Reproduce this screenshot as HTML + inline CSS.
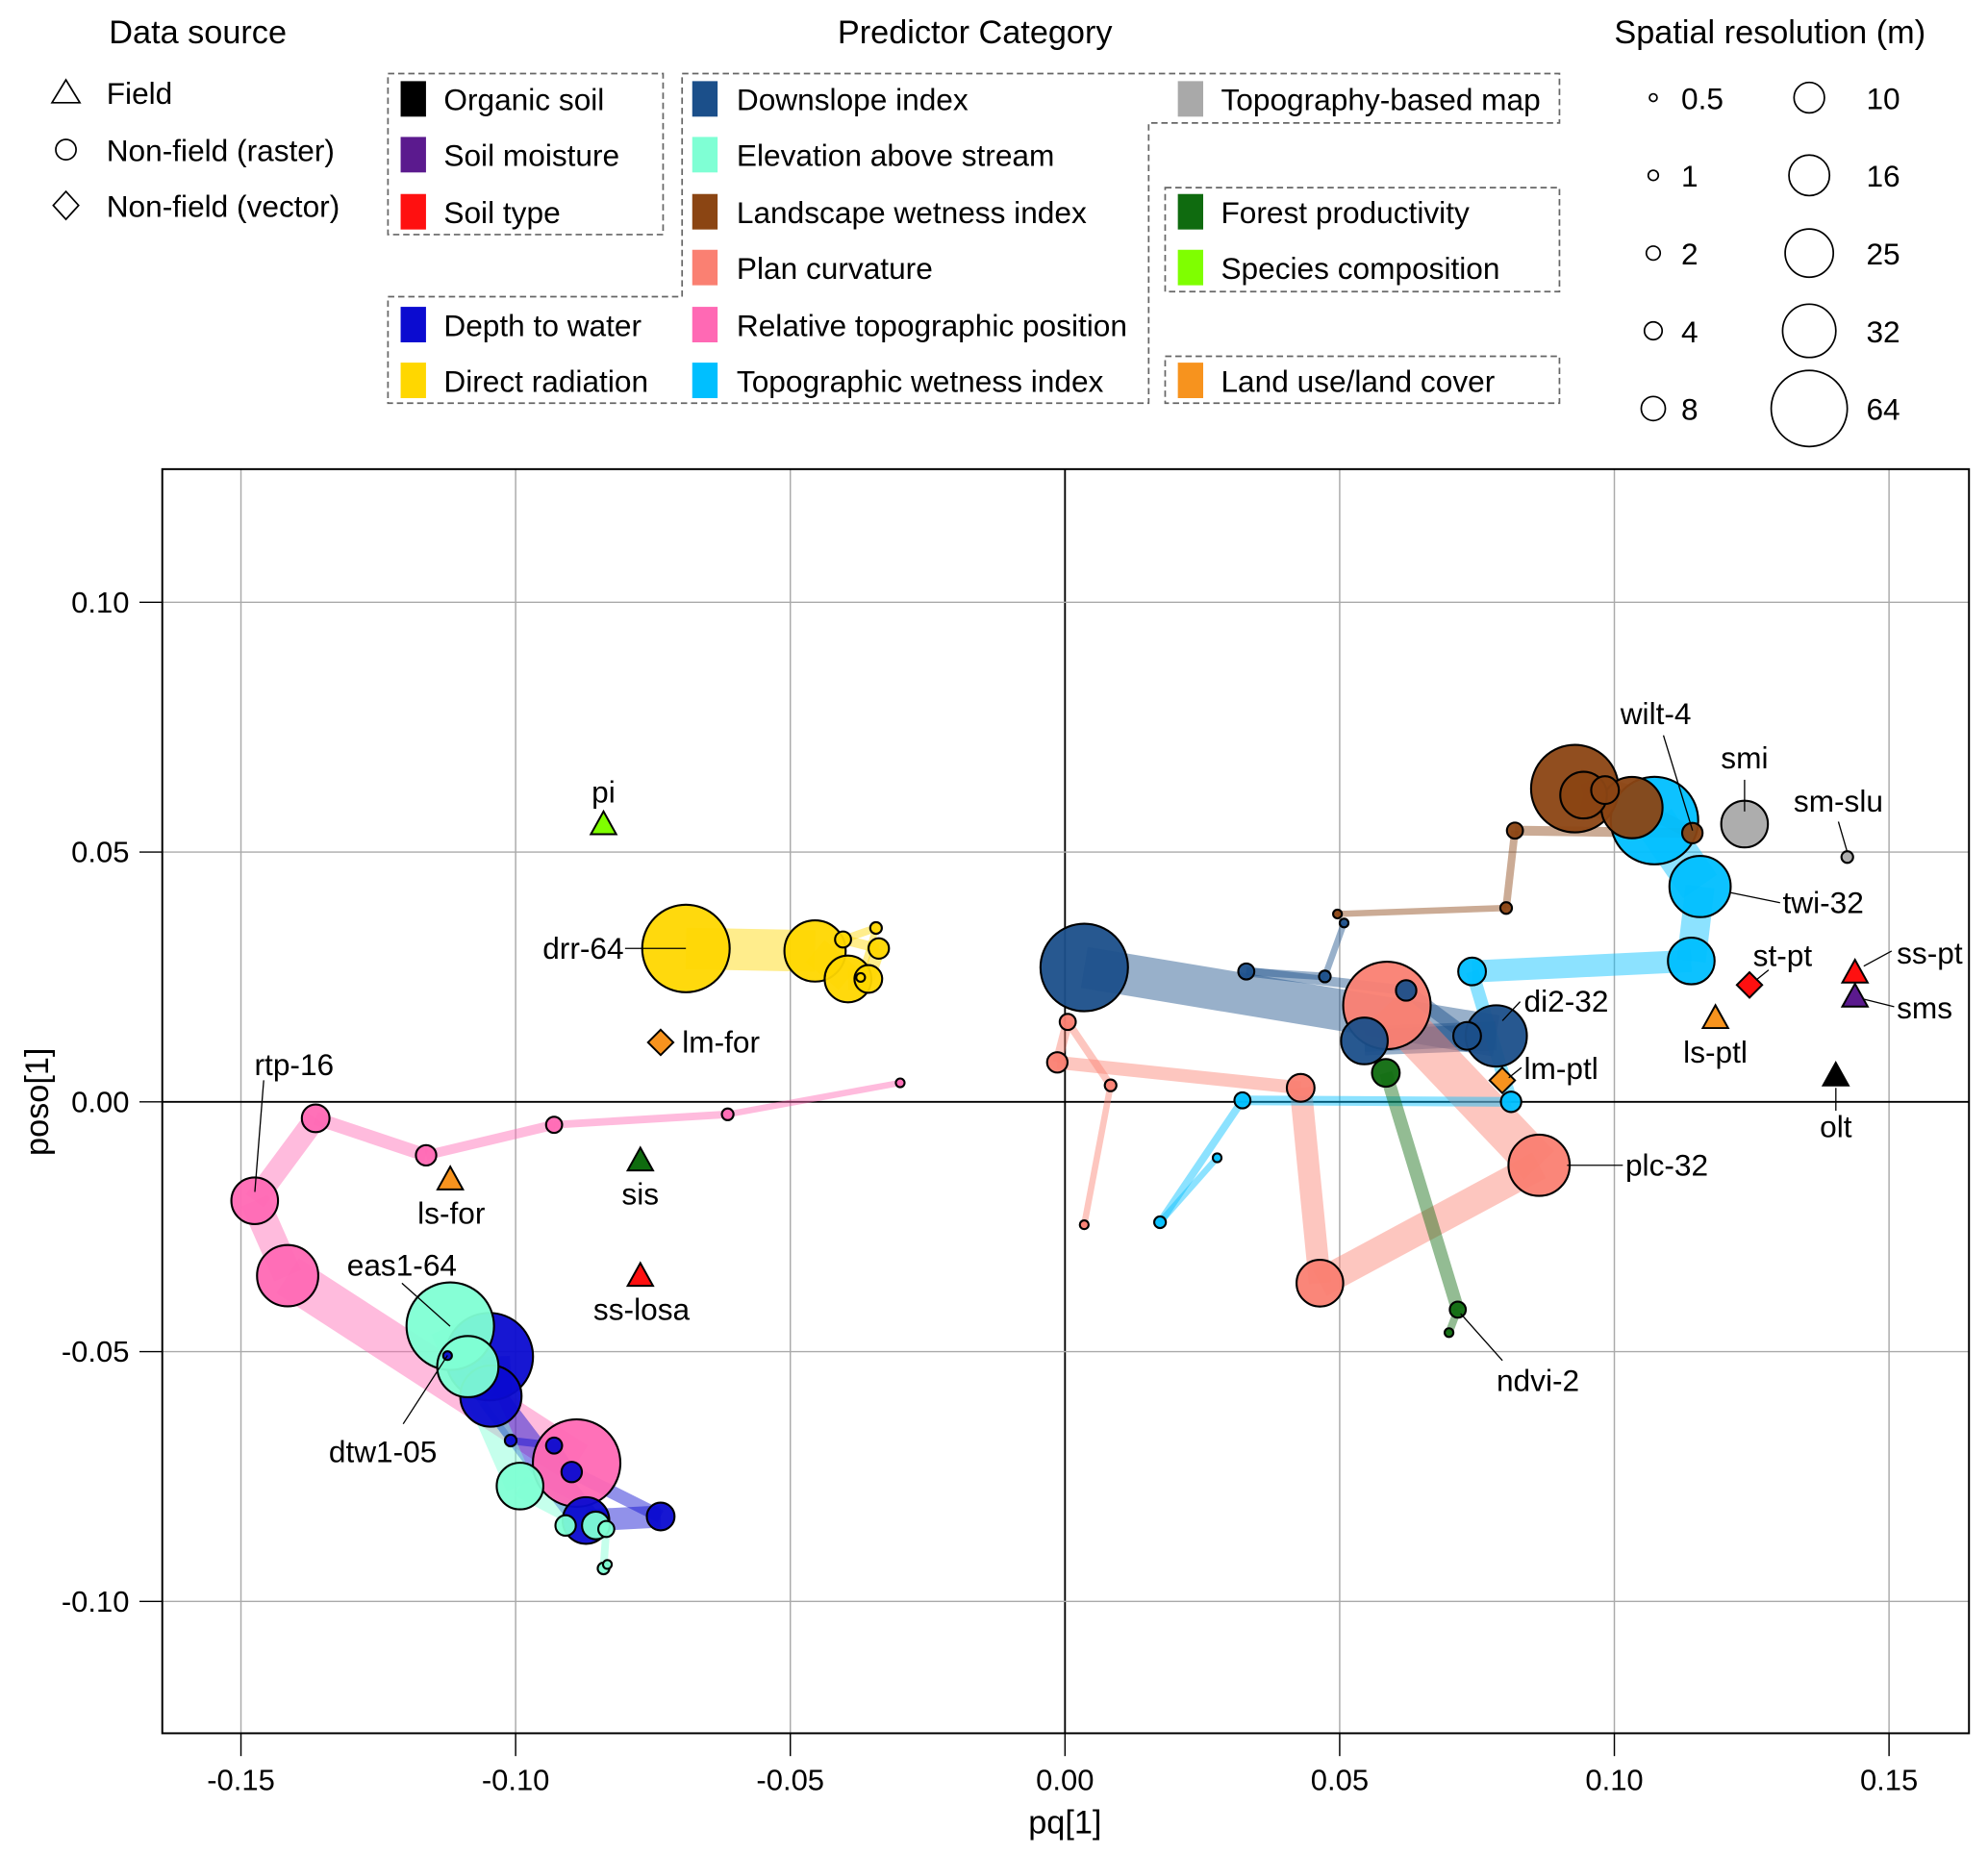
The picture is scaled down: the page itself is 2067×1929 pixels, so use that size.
<!DOCTYPE html>
<html><head><meta charset="utf-8">
<style>
html,body{margin:0;padding:0;background:#fff;}
svg{display:block;}
text{font-family:"Liberation Sans",Arial,sans-serif;fill:#000;}
</style></head>
<body>
<svg id="chart" width="2067" height="1929" viewBox="0 0 1568 1463" preserveAspectRatio="none" xmlns="http://www.w3.org/2000/svg">
  <g id="legend">
    <text x="156" y="34" font-size="26" text-anchor="middle">Data source</text>
    <text x="769" y="34" font-size="26" text-anchor="middle">Predictor Category</text>
    <text x="1396" y="34" font-size="26" text-anchor="middle">Spatial resolution (m)</text>
    <polygon points="41,81 52,63 63,81" fill="none" stroke="#000" stroke-width="1.3"/>
    <text x="84" y="82" font-size="24">Field</text>
    <circle cx="52" cy="118" r="8" fill="none" stroke="#000" stroke-width="1.3"/>
    <text x="84" y="127" font-size="24">Non-field (raster)</text>
    <polygon points="52,151 62,162 52,173 42,162" fill="none" stroke="#000" stroke-width="1.3"/>
    <text x="84" y="171" font-size="24">Non-field (vector)</text>
    <g fill="none" stroke="#666" stroke-width="1.3" stroke-dasharray="5,3">
      <rect x="306" y="58" width="217" height="127"/>
      <polygon points="538,58 1230,58 1230,97 906,97 906,318 306,318 306,234 538,234"/>
      <rect x="919" y="148" width="311" height="82"/>
      <rect x="919" y="281" width="311" height="37"/>
    </g>
    <g id="cat-legend"></g>
    <g id="size-legend"></g>
  </g>
  <g id="plot"></g>
</svg>
<script>
// ---------- data ----------
const categories = ["Organic soil","Soil moisture","Soil type","Depth to water","Direct radiation","Downslope index","Elevation above stream","Landscape wetness index","Plan curvature","Relative topographic position","Topographic wetness index","Topography-based map","Forest productivity","Species composition","Land use/land cover"];
const catColors = ["#000000","#5b1a8e","#ff1010","#0b0bd0","#ffd700","#1b4f8a","#7fffd4","#8b4513","#fa8072","#ff69b4","#00bfff","#a9a9a9","#0f6b0f","#7fff00","#f7931e"];
const legendCol = [0,0,0,0,0,1,1,1,1,1,1,2,2,2,2];
const legendRow = [0,1,2,4,5,0,1,2,3,4,5,0,2,3,5];
const resolutions = [0.5,1,2,4,8,10,16,25,32,64];
const xTicks = [-0.15,-0.10,-0.05,0.00,0.05,0.10,0.15];
const xTickLabels = ["-0.15","-0.10","-0.05","0.00","0.05","0.10","0.15"];
const yTicks = [0.10,0.05,0.00,-0.05,-0.10];
const yTickLabels = ["0.10","0.05","0.00","-0.05","-0.10"];

// raster series (connected by resolution order)
const seriesCat = [4,9,3,6,5,8,10,7,12];
const seriesRes = [0.5,1,2,4,8,16,32,64];
const seriesRes3 = [0.5,2,8];
const drrX = [-0.0372,-0.0344,-0.0404,-0.0339,-0.0358,-0.0395,-0.0455,-0.0690];
const drrY = [0.0249,0.0348,0.0325,0.0307,0.0246,0.0246,0.0302,0.0307];
const rtpX = [-0.0300,-0.0614,-0.0930,-0.1163,-0.1364,-0.1475,-0.1415,-0.0889];
const rtpY = [0.0038,-0.0025,-0.0046,-0.0107,-0.0033,-0.0198,-0.0348,-0.0723];
const dtwX = [-0.1124,-0.1009,-0.0930,-0.0898,-0.0736,-0.0872,-0.1045,-0.1048];
const dtwY = [-0.0508,-0.0678,-0.0688,-0.0741,-0.0830,-0.0838,-0.0589,-0.0510];
const easX = [-0.0833,-0.0840,-0.0835,-0.0909,-0.0854,-0.0992,-0.1087,-0.1119];
const easY = [-0.0926,-0.0934,-0.0855,-0.0848,-0.0848,-0.0769,-0.0530,-0.0449];
const diX = [0.0508,0.0473,0.0330,0.0621,0.0732,0.0545,0.0785,0.0035];
const diY = [0.0358,0.0251,0.0261,0.0223,0.0132,0.0122,0.0132,0.0269];
const plcX = [0.0035,0.0083,0.0005,-0.0014,0.0429,0.0464,0.0863,0.0586];
const plcY = [-0.0246,0.0033,0.0160,0.0079,0.0028,-0.0363,-0.0127,0.0193];
const twiX = [0.0277,0.0173,0.0323,0.0812,0.0741,0.1140,0.1156,0.1073];
const twiY = [-0.0112,-0.0241,0.0003,0.0000,0.0261,0.0282,0.0431,0.0563];
const lwiX = [0.0496,0.0803,0.0819,0.1142,0.0983,0.0944,0.1032,0.0928];
const lwiY = [0.0376,0.0388,0.0543,0.0538,0.0624,0.0614,0.0589,0.0627];
const fpX = [0.0699,0.0715,0.0584];
const fpY = [-0.0462,-0.0416,0.0058];

// unconnected points
const ptName = ["smi","sm-slu","pi","sis","ss-losa","ls-for","ls-ptl","ss-pt","sms","olt","lm-for","lm-ptl","st-pt"];
const ptCat = [11,11,13,12,2,14,14,2,1,0,14,14,2];
const ptShape = ["c","c","t","t","t","t","t","t","t","t","d","d","d"];
const ptRes = [16,1,0,0,0,0,0,0,0,0,0,0,0];
const ptX = [0.1237,0.1424,-0.0840,-0.0773,-0.0773,-0.1119,0.1184,0.1438,0.1438,0.1403,-0.0736,0.0796,0.1246];
const ptY = [0.0556,0.0490,0.0556,-0.0117,-0.0348,-0.0155,0.0168,0.0259,0.0211,0.0053,0.0119,0.0043,0.0234];

// ---------- layout ----------
const NS = "http://www.w3.org/2000/svg";
const L = 128, R = 1553, T = 370, B = 1367;
function sx(v){ return 840 + v * 4333; }
function sy(v){ return 869 - v * 3940; }
const legR = {0.5:3,1:4,2:5.5,4:7,8:9.5,10:12,16:16,25:19,32:21,64:30};
function rad(res){ return legR[res] * 1.15; }
function mk(tag, attrs, parent){ const e = document.createElementNS(NS, tag); for (const k in attrs) e.setAttribute(k, attrs[k]); parent.appendChild(e); return e; }

// category legend
const catLeg = document.getElementById("cat-legend");
const colSw = [316,546,929], colTx = [350,581,963], rowY = [78,122,167,211,256,300];
categories.forEach((c,i)=>{
  const r = mk("rect",{x:colSw[legendCol[i]], y:rowY[legendRow[i]]-14, width:20, height:28, fill:catColors[i]}, catLeg);
  
  
  const t = mk("text",{x:colTx[legendCol[i]], y:rowY[legendRow[i]]+9, "font-size":24}, catLeg);
  t.textContent = c;
  
  
});
// size legend
const sizeLeg = document.getElementById("size-legend");
resolutions.forEach((res,i)=>{
  const col = i < 5 ? 0 : 1, row = i % 5;
  const cx = col ? 1427 : 1304, cy = 77 + row * 61.3;
  const c = mk("circle",{cx:cx, cy:cy, r:legR[res], fill:"none", stroke:"#000", "stroke-width":1.3}, sizeLeg);
  
  
  const t = mk("text",{x:col ? 1472 : 1326, y:cy+9, "font-size":24}, sizeLeg);
  t.textContent = String(res);
  
  
});

// plot
const plot = document.getElementById("plot");
const grid = mk("g",{}, plot);


xTicks.forEach((v,i)=>{
  const X = sx(v);
  mk("line",{x1:X,x2:X,y1:T,y2:B,stroke:v===0?"#000":"#aaa","stroke-width":v===0?1.4:1.1}, grid);
  const tk = mk("line",{x1:X,x2:X,y1:B,y2:B+18,stroke:"#000","stroke-width":1.1}, plot);
  
  
  const t = mk("text",{x:X,y:B+45,"font-size":23.5,"text-anchor":"middle"}, plot);
  t.textContent = xTickLabels[i];
  
  
});
yTicks.forEach((v,i)=>{
  const Y = sy(v);
  mk("line",{x1:L,x2:R,y1:Y,y2:Y,stroke:v===0?"#000":"#aaa","stroke-width":v===0?1.4:1.1}, grid);
  const tk = mk("line",{x1:L-18,x2:L,y1:Y,y2:Y,stroke:"#000","stroke-width":1.1}, plot);
  
  
  const t = mk("text",{x:L-26,y:Y+8,"font-size":23.5,"text-anchor":"end"}, plot);
  t.textContent = yTickLabels[i];
  
  
});
const frame = mk("rect",{x:L,y:T,width:R-L,height:B-T,fill:"none",stroke:"#000","stroke-width":1.5}, plot);


const xt = mk("text",{x:840,y:1446,"font-size":26,"text-anchor":"middle"}, plot);
xt.textContent = "pq[1]";


const yt = mk("text",{x:38,y:869,"font-size":26,"text-anchor":"middle",transform:"rotate(-90 38 869)"}, plot);
yt.textContent = "poso[1]";



const seriesX = [drrX,rtpX,dtwX,easX,diX,plcX,twiX,lwiX,fpX];
const seriesY = [drrY,rtpY,dtwY,easY,diY,plcY,twiY,lwiY,fpY];
const bands = mk("g",{}, plot);


const marks = [];
seriesX.forEach((xs,s)=>{
  const ys = seriesY[s], col = catColors[seriesCat[s]];
  const resArr = xs.length === 3 ? seriesRes3 : seriesRes;
  for (let i=0;i<xs.length-1;i++){
    const w = Math.max(rad(resArr[i+1]) * 0.95, 5);
    const ln = mk("line",{x1:sx(xs[i]),y1:sy(ys[i]),x2:sx(xs[i+1]),y2:sy(ys[i+1]),stroke:col,"stroke-width":w,"stroke-opacity":0.45}, bands);
    
    
  }
  for (let i=0;i<xs.length;i++) marks.push({x:xs[i],y:ys[i],r:rad(resArr[i]),col:col});
});
ptName.forEach((n,i)=>{ if (ptShape[i]==="c") marks.push({x:ptX[i],y:ptY[i],r:rad(ptRes[i]),col:catColors[ptCat[i]]}); });
marks.sort((a,b)=>b.r-a.r);
const pts = mk("g",{}, plot);


marks.forEach(m=>{
  const c = mk("circle",{cx:sx(m.x),cy:sy(m.y),r:m.r,fill:m.col,stroke:"#000","stroke-width":1.6,"fill-opacity":0.95}, pts);
  
  
});
ptName.forEach((n,i)=>{
  const X = sx(ptX[i]), Y = sy(ptY[i]), col = catColors[ptCat[i]];
  if (ptShape[i]==="t"){
    const p = mk("polygon",{points:`${X-10},${Y+8} ${X},${Y-10} ${X+10},${Y+8}`,fill:col,stroke:"#000","stroke-width":1.5}, pts);
    
    
  } else if (ptShape[i]==="d"){
    const p = mk("polygon",{points:`${X},${Y-10} ${X+10},${Y} ${X},${Y+10} ${X-10},${Y}`,fill:col,stroke:"#000","stroke-width":1.5}, pts);
    
    
  }
});

// point labels
const labels = [
  ["pi",476,633,"middle"],["drr-64",492,756,"end"],["lm-for",538,830,"start"],["rtp-16",232,848,"middle"],
  ["ls-for",356,965,"middle"],["sis",505,950,"middle"],["ss-losa",506,1041,"middle"],["eas1-64",317,1006,"middle"],
  ["dtw1-05",302,1153,"middle"],["wilt-4",1306,571,"middle"],["smi",1376,606,"middle"],["sm-slu",1450,640,"middle"],
  ["twi-32",1406,720,"start"],["st-pt",1406,762,"middle"],["ss-pt",1522,760,"middle"],["sms",1496,803,"start"],
  ["di2-32",1202,798,"start"],["lm-ptl",1202,851,"start"],["ls-ptl",1353,838,"middle"],["olt",1448,897,"middle"],
  ["plc-32",1282,927,"start"],["ndvi-2",1213,1097,"middle"]
];
const leaders = [[493,748,541,748],[208,852,201,940],[317,1012,355,1046],[318,1123,353,1069],[1312,580,1335,655],
  [1376,615,1376,640],[1450,648,1457,672],[1404,712,1365,704],[1395,765,1385,773],[1492,750,1470,762],[1494,794,1470,788],
  [1199,790,1185,805],[1200,842,1190,850],[1280,919,1236,919],[1185,1073,1152,1036],[1448,858,1448,876]];
const lab = mk("g",{}, plot);


leaders.forEach(l=>{
  const ln = mk("line",{x1:l[0],y1:l[1],x2:l[2],y2:l[3],stroke:"#000","stroke-width":1}, lab);
  
  
});
labels.forEach(l=>{
  const t = mk("text",{x:l[1],y:l[2],"font-size":24,"text-anchor":l[3]}, lab);
  t.textContent = l[0];
  
  
});
</script>
</body></html>
